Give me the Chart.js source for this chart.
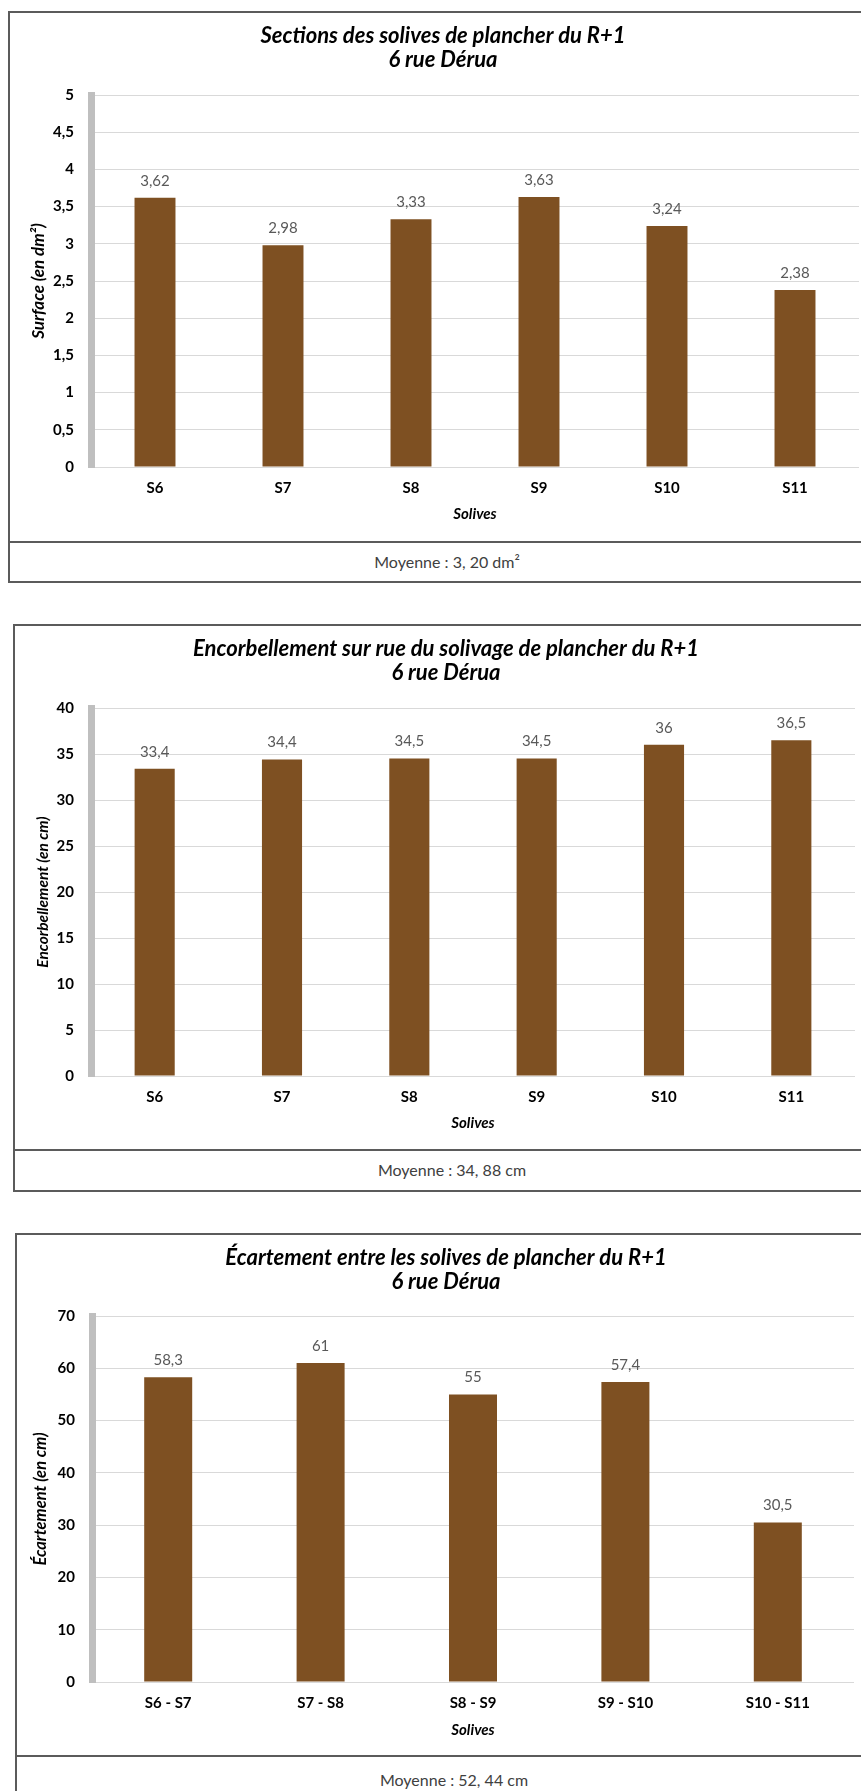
<!DOCTYPE html>
<html>
<head>
<meta charset="utf-8">
<script src="https://cdn.jsdelivr.net/npm/chart.js@4.4.1/dist/chart.umd.min.js"></script>
<style>
  html, body { margin:0; padding:0; background:#fff; }
  #page { position:relative; width:861px; height:1791px; overflow:hidden; background:#fff; }
  .box { position:absolute; box-sizing:border-box; border:2px solid #5b5b5b; width:900px; }
  .divider { position:absolute; height:2px; background:#5b5b5b; width:900px; }
  .moy { position:absolute; width:878px; text-align:center; font-family:Lato, "Open Sans", sans-serif; font-size:16px; color:#404040; line-height:20px; }
  canvas { position:absolute; left:0; }
</style>
</head>
<body>
<div id="page">
  <div class="box" style="left:8px; top:11px; height:572px;"></div>
  <div class="divider" style="left:8px; top:541px;"></div>
  <div class="moy" style="left:8px; top:552px;">Moyenne : 3, 20 dm²</div>
  <canvas id="c1" width="888" height="531" style="top:11px; width:888px; height:531px;"></canvas>

  <div class="box" style="left:13px; top:624px; height:568px;"></div>
  <div class="divider" style="left:13px; top:1149px;"></div>
  <div class="moy" style="left:13px; top:1160px;">Moyenne : 34, 88 cm</div>
  <canvas id="c2" width="888" height="526" style="top:624px; width:888px; height:526px;"></canvas>

  <div class="box" style="left:15px; top:1233px; height:600px;"></div>
  <div class="divider" style="left:15px; top:1755px;"></div>
  <div class="moy" style="left:15px; top:1770px;">Moyenne : 52, 44 cm</div>
  <canvas id="c3" width="888" height="523" style="top:1233px; width:888px; height:523px;"></canvas>
</div>
<script>
// ---- data ----
const solives = ['S6', 'S7', 'S8', 'S9', 'S10', 'S11'];
const sections = [3.62, 2.98, 3.33, 3.63, 3.24, 2.38];
const encorbellement = [33.4, 34.4, 34.5, 34.5, 36, 36.5];
const intervalles = ['S6 - S7', 'S7 - S8', 'S8 - S9', 'S9 - S10', 'S10 - S11'];
const ecartement = [58.3, 61, 55, 57.4, 30.5];

const titles1 = ['Sections des solives de plancher du R+1', '6 rue Dérua'];
const titles2 = ['Encorbellement sur rue du solivage de plancher du R+1', '6 rue Dérua'];
const titles3 = ['Écartement entre les solives de plancher du R+1', '6 rue Dérua'];
const yTitle1 = 'Surface (en dm²)';
const yTitle2 = 'Encorbellement (en cm)';
const yTitle3 = 'Écartement (en cm)';
const xTitle = 'Solives';

const FONT = 'Lato, "Open Sans", sans-serif';
const BAR = '#7e5022';
const fmt = v => String(v).replace('.', ',');

const valueLabels = {
  id: 'valueLabels',
  afterDatasetsDraw(chart) {
    const ctx = chart.ctx;
    const meta = chart.getDatasetMeta(0);
    const data = chart.data.datasets[0].data;
    ctx.save();
    ctx.font = '15px ' + FONT;
    ctx.fillStyle = '#595959';
    ctx.textAlign = 'center';
    ctx.textBaseline = 'middle';
    meta.data.forEach((bar, i) => ctx.fillText(fmt(data[i]), bar.x, bar.y - 17));
    ctx.restore();
  }
};

// centre the chart title on the outer frame rather than on the plot
const centreTitle = {
  id: 'centreTitle',
  afterLayout(chart, args, opts) {
    const t = chart.titleBlock;
    if (!t) return;
    const w = t.right - t.left;
    t.left = opts.cx - w / 2;
    t.right = opts.cx + w / 2;
  }
};

function makeChart(id, o) {
  return new Chart(document.getElementById(id), {
    type: 'bar',
    data: { labels: o.labels, datasets: [{ data: o.values, backgroundColor: BAR, borderWidth: 0,
      barPercentage: o.barPct, categoryPercentage: 1 }] },
    plugins: [valueLabels, centreTitle],
    options: {
      responsive: false, animation: false, devicePixelRatio: 1,
      layout: { padding: { left: 0, right: o.padRight, top: 0, bottom: 0 } },
      plugins: {
        legend: { display: false }, tooltip: { enabled: false },
        centreTitle: { cx: o.cx },
        title: { display: true, text: o.title, color: '#000',
          font: { family: FONT, size: 22, weight: 'bold', style: 'italic', lineHeight: 24 / 22 },
          padding: { top: o.titleTop, bottom: o.titleBottom } }
      },
      scales: {
        x: {
          grid: { display: false, drawTicks: false }, border: { display: false },
          ticks: { color: '#000', padding: 12, font: { family: FONT, size: 15, weight: 'bold' } },
          title: { display: true, text: xTitle, color: '#000', padding: { top: 0, bottom: o.xTitlePad },
            font: { family: FONT, size: 15, weight: 'bold', style: 'italic', lineHeight: 1.2 } },
          afterFit(s) { s.height = o.xHeight; }
        },
        y: {
          min: 0, max: o.max,
          grid: { color: '#d9d9d9', lineWidth: 1, drawTicks: false },
          border: { display: true, color: '#bfbfbf', width: 7 },
          ticks: { stepSize: o.step, color: '#000', padding: 17, callback: v => fmt(v),
            font: { family: FONT, size: 15, weight: 'bold' } },
          title: { display: true, text: o.yTitle, color: '#000', padding: { top: o.yTitlePad, bottom: 0 },
            font: { family: FONT, size: o.yTitleSize, weight: 'bold', style: 'italic', lineHeight: 1.2 } },
          afterFit(s) { s.width = o.left; }
        }
      }
    }
  });
}

makeChart('c1', { labels: solives, values: sections, title: titles1, yTitle: yTitle1, max: 5, step: 0.5, cx: 443,
  padRight: 29, left: 91, titleTop: 13, titleBottom: 23, xHeight: 75, xTitlePad: 19, yTitlePad: 28, yTitleSize: 17, barPct: 0.32 });
makeChart('c2', { labels: solives, values: encorbellement, title: titles2, yTitle: yTitle2, max: 40, step: 5, cx: 446,
  padRight: 33, left: 91, titleTop: 13, titleBottom: 23, xHeight: 74, xTitlePad: 18, yTitlePad: 34, yTitleSize: 15.5, barPct: 0.315 });
makeChart('c3', { labels: intervalles, values: ecartement, title: titles3, yTitle: yTitle3, max: 70, step: 10, cx: 446,
  padRight: 34, left: 92, titleTop: 13, titleBottom: 22, xHeight: 74, xTitlePad: 17, yTitlePad: 31, yTitleSize: 16.5, barPct: 0.315 });
</script>
</body>
</html>
